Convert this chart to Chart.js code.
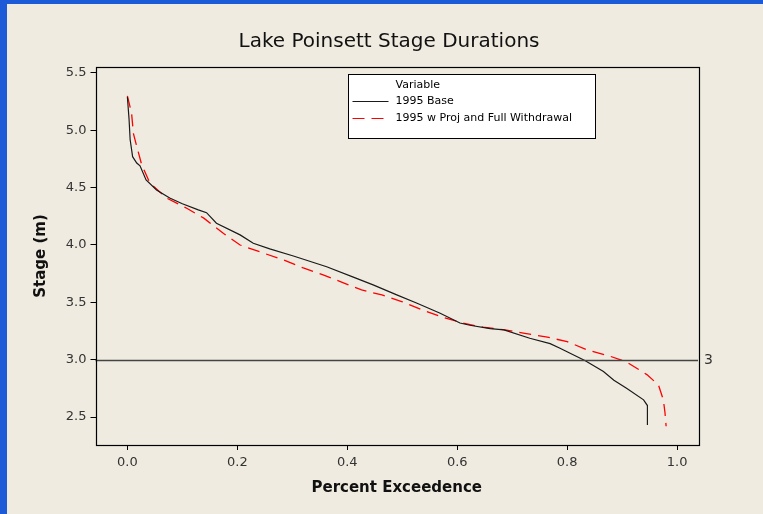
<!DOCTYPE html>
<html>
<head>
<meta charset="utf-8">
<script src="https://cdn.jsdelivr.net/npm/chart.js@4"></script>
<style>
  html, body { margin: 0; padding: 0; background: #1d5ad8; }
  #frame {
    position: absolute; left: 7px; top: 4px; width: 756px; height: 510px;
    background: #efebe0;
  }
  #frame canvas { display: block; }
</style>
</head>
<body>
<div id="frame"><canvas id="stage-chart" width="756" height="510"></canvas></div>
<script>
// percent exceedence / stage for the base run
const base_x = [0.000, 0.003, 0.005, 0.0095, 0.017, 0.023, 0.034, 0.053, 0.077, 0.100, 0.129, 0.144,
    0.162, 0.205, 0.229, 0.259, 0.302, 0.3625, 0.411, 0.447, 0.490, 0.527, 0.569, 0.605, 0.623, 0.660,
    0.685, 0.732, 0.769, 0.787, 0.833, 0.866, 0.885, 0.908, 0.939, 0.946, 0.946];
const base_y = [5.29, 5.10, 4.92, 4.77, 4.715, 4.69, 4.567, 4.48, 4.41, 4.36, 4.306, 4.282,
    4.19, 4.088, 4.015, 3.966, 3.904, 3.81, 3.72, 3.652, 3.565, 3.492, 3.405, 3.32, 3.30, 3.27,
    3.26, 3.187, 3.14, 3.10, 2.99, 2.896, 2.82, 2.75, 2.65, 2.60, 2.43];

// with project and full withdrawal
const proj_x = [0.000, 0.0076, 0.011, 0.017, 0.026, 0.041, 0.071, 0.108, 0.139, 0.175, 0.205, 0.247,
    0.284, 0.320, 0.356, 0.393, 0.426, 0.463, 0.499, 0.536, 0.573, 0.611, 0.647, 0.687, 0.723, 0.764,
    0.800, 0.836, 0.878, 0.908, 0.945, 0.966, 0.975, 0.978, 0.980];
const proj_y = [5.30, 5.15, 4.97, 4.86, 4.70, 4.54, 4.41, 4.32, 4.234, 4.10, 4.00, 3.93,
    3.87, 3.80, 3.74, 3.67, 3.608, 3.565, 3.507, 3.434, 3.37, 3.318, 3.283, 3.26, 3.23, 3.196,
    3.158, 3.085, 3.03, 2.98, 2.87, 2.78, 2.65, 2.535, 2.42];

const series_labels = ["1995 Base", "1995 w Proj and Full Withdrawal"];
const chart_title = "Lake Poinsett Stage Durations";
const legend_title = "Variable";
const ref_stage = 3;
const x_ticks = [0.0, 0.2, 0.4, 0.6, 0.8, 1.0];
const y_ticks = [2.5, 3.0, 3.5, 4.0, 4.5, 5.0, 5.5];

const FONT = "'DejaVu Sans', sans-serif";

function to_points(xs, ys) {
    return xs.map((x, i) => ({ x: x, y: ys[i] }));
}

// title, frame, reference line and the boxed legend
const decorations = {
    id: "decorations",
    afterDatasetsDraw(chart) {
        const ctx = chart.ctx;
        const area = chart.chartArea;
        const y_scale = chart.scales.y;

        ctx.save();
        // title, centred on the whole panel like the original
        ctx.fillStyle = "#111";
        ctx.font = "20px " + FONT;
        ctx.textAlign = "center";
        ctx.textBaseline = "middle";
        ctx.fillText(chart_title, chart.width / 2 + 4, 38);

        // reference line
        const ry = Math.round(y_scale.getPixelForValue(ref_stage)) + 0.5;
        ctx.strokeStyle = "#444";
        ctx.lineWidth = 1.5;
        ctx.beginPath();
        ctx.moveTo(area.left, ry);
        ctx.lineTo(area.right, ry);
        ctx.stroke();
        ctx.fillStyle = "#333";
        ctx.font = "14px " + FONT;
        ctx.textAlign = "left";
        ctx.fillText(String(ref_stage), area.right + 6, ry);

        // plot frame
        ctx.strokeStyle = "#000";
        ctx.lineWidth = 1.2;
        ctx.strokeRect(Math.round(area.left) + 0.5, Math.round(area.top) + 0.5,
            Math.round(area.right - area.left), Math.round(area.bottom - area.top));

        // legend box
        const bx = Math.round(area.left + 252) + 0.5;
        const by = Math.round(area.top + 7) + 0.5;
        const bw = 247, bh = 64;
        ctx.fillStyle = "#fff";
        ctx.fillRect(bx, by, bw, bh);
        ctx.strokeStyle = "#000";
        ctx.lineWidth = 1;
        ctx.strokeRect(bx, by, bw, bh);

        ctx.font = "11px " + FONT;
        ctx.fillStyle = "#000";
        ctx.fillText(legend_title, bx + 47, by + 11);
        chart.data.datasets.forEach((ds, i) => {
            const ly = by + 27 + i * 17;
            ctx.strokeStyle = ds.borderColor;
            ctx.lineWidth = 1.2;
            ctx.setLineDash(ds.borderDash || []);
            ctx.beginPath();
            ctx.moveTo(bx + 4, ly);
            ctx.lineTo(bx + 40, ly);
            ctx.stroke();
            ctx.setLineDash([]);
            ctx.fillStyle = "#000";
            ctx.fillText(ds.label, bx + 47, ly);
        });
        ctx.restore();
    }
};

new Chart(document.getElementById("stage-chart"), {
    type: "scatter",
    data: {
        datasets: [{
            label: series_labels[0],
            data: to_points(base_x, base_y),
            showLine: true,
            borderColor: "#1a1a1a",
            borderWidth: 1.2,
            pointRadius: 0,
            tension: 0
        }, {
            label: series_labels[1],
            data: to_points(proj_x, proj_y),
            showLine: true,
            borderColor: "#ff0000",
            borderWidth: 1.3,
            borderDash: [12, 7],
            pointRadius: 0,
            tension: 0
        }]
    },
    options: {
        responsive: false,
        animation: false,
        layout: { padding: { left: 25, right: 65, top: 63, bottom: 17 } },
        plugins: {
            legend: { display: false },
            tooltip: { enabled: false },
            title: { display: false }
        },
        scales: {
            x: {
                type: "linear",
                min: -0.058,
                max: 1.038,
                afterBuildTicks: (axis) => { axis.ticks = x_ticks.map(v => ({ value: v })); },
                afterFit: (axis) => { axis.height = 52; },
                ticks: {
                    includeBounds: false,
                    color: "#333",
                    font: { family: FONT, size: 13 },
                    padding: 5,
                    callback: (v) => Number(v).toFixed(1)
                },
                grid: { drawOnChartArea: false, drawTicks: true, tickLength: 5, color: "#000" },
                border: { display: false },
                title: {
                    display: true,
                    text: "Percent Exceedence",
                    color: "#111",
                    font: { family: FONT, size: 15, weight: "bold" },
                    padding: { top: 2, bottom: 0 }
                }
            },
            y: {
                type: "linear",
                min: 2.256,
                max: 5.552,
                afterBuildTicks: (axis) => { axis.ticks = y_ticks.map(v => ({ value: v })); },
                afterFit: (axis) => { axis.width = 63.5; },
                ticks: {
                    includeBounds: false,
                    color: "#333",
                    font: { family: FONT, size: 13 },
                    padding: 4,
                    callback: (v) => Number(v).toFixed(1)
                },
                grid: { drawOnChartArea: false, drawTicks: true, tickLength: 5, color: "#000" },
                border: { display: false },
                title: {
                    display: true,
                    text: "Stage (m)",
                    color: "#111",
                    font: { family: FONT, size: 15, weight: "bold" },
                    padding: { top: 0, bottom: 0 }
                }
            }
        }
    },
    plugins: [decorations]
});
</script>
</body>
</html>
